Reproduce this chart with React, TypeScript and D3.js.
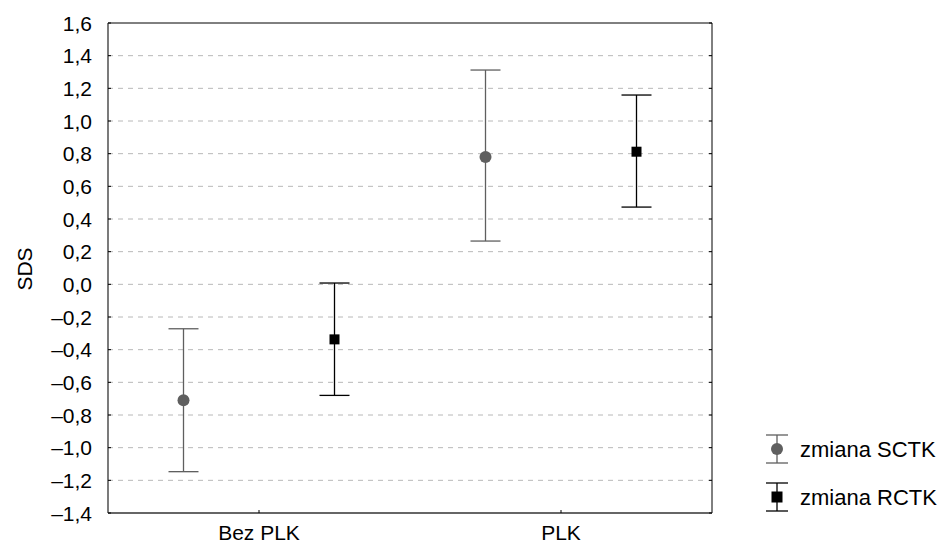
import React from "react";
import * as d3 from "d3";

const categories = ["Bez PLK", "PLK"];
const seriesNames = ["zmiana SCTK", "zmiana RCTK"];
const sctkMean = [-0.71, 0.78];
const sctkLow = [-1.147, 0.265];
const sctkHigh = [-0.272, 1.312];
const rctkMean = [-0.337, 0.812];
const rctkLow = [-0.68, 0.473];
const rctkHigh = [0.008, 1.159];
const yTicks = [-1.4, -1.2, -1.0, -0.8, -0.6, -0.4, -0.2, 0.0, 0.2, 0.4, 0.6, 0.8, 1.0, 1.2, 1.4, 1.6];

const W = 944, H = 543;
const L = 108, R = 712, T = 23, B = 513;
const FONT = "'Liberation Sans', Arial, sans-serif";

const fmt = (v: number) => {
  const s = Math.abs(v).toFixed(1).replace(".", ",");
  return (v < -1e-9 ? "\u2013" : "") + s;
};

export default function App() {
  const x = d3.scaleBand<string>().domain(categories).range([L, R]);
  const y = d3.scaleLinear().domain([-1.4, 1.6]).range([B, T]);
  const off = 75.5;
  const cap = 15;
  const series = [
    { name: seriesNames[0], mean: sctkMean, low: sctkLow, high: sctkHigh, color: "#5f5f5f", dx: -off, shape: "circle" },
    { name: seriesNames[1], mean: rctkMean, low: rctkLow, high: rctkHigh, color: "#000000", dx: off, shape: "square" },
  ];
  const cx = (c: string) => (x(c) as number) + x.bandwidth() / 2;

  return (
    <svg width={W} height={H} style={{ position: "absolute", left: 0, top: 0, background: "#fff" }} fontFamily={FONT}>
      <rect x={0} y={0} width={W} height={H} fill="#fff" />
      {yTicks.slice(1, -1).map((t) => (
        <line key={"g" + t} x1={L} x2={R} y1={y(t)} y2={y(t)} stroke="#b8b8b8" strokeWidth={1} strokeDasharray="5,5" />
      ))}
      {/* frame */}
      <line x1={L} x2={R} y1={T} y2={T} stroke="#000" strokeWidth={1} />
      <line x1={R} x2={R} y1={T} y2={B} stroke="#000" strokeWidth={1} />
      <line x1={L} x2={L} y1={T} y2={B} stroke="#333" strokeWidth={1.3} />
      <line x1={L} x2={R} y1={B} y2={B} stroke="#333" strokeWidth={1.3} />
      {yTicks.map((t) => (
        <g key={"t" + t}>
          <line x1={L} x2={L + 3} y1={y(t)} y2={y(t)} stroke="#000" />
          <line x1={R - 3} x2={R} y1={y(t)} y2={y(t)} stroke="#000" />
          <text x={92} y={y(t)} dy="0.36em" textAnchor="end" fontSize={21} fill="#000">{fmt(t)}</text>
        </g>
      ))}
      {categories.map((c) => (
        <g key={c}>
          <line x1={cx(c)} x2={cx(c)} y1={B} y2={B - 3} stroke="#000" />
          <text x={cx(c)} y={540} textAnchor="middle" fontSize={21} fill="#000">{c}</text>
        </g>
      ))}
      <text transform={`translate(32,${(T + B) / 2 + 1}) rotate(-90)`} textAnchor="middle" fontSize={21} fill="#000">SDS</text>
      {series.map((s) => (
        <g key={s.name}>
          {categories.map((c, i) => {
            const px = cx(c) + s.dx;
            return (
              <g key={c}>
                <line x1={px} x2={px} y1={y(s.low[i])} y2={y(s.high[i])} stroke={s.color} strokeWidth={1.3} />
                <line x1={px - cap} x2={px + cap} y1={y(s.low[i])} y2={y(s.low[i])} stroke={s.color} strokeWidth={1.3} />
                <line x1={px - cap} x2={px + cap} y1={y(s.high[i])} y2={y(s.high[i])} stroke={s.color} strokeWidth={1.3} />
                {s.shape === "circle" ? (
                  <circle cx={px} cy={y(s.mean[i])} r={6} fill={s.color} />
                ) : (
                  <rect x={px - 5} y={y(s.mean[i]) - 5} width={10} height={10} fill={s.color} />
                )}
              </g>
            );
          })}
        </g>
      ))}
      {/* legend */}
      {series.map((s, i) => {
        const lx = 777;
        const ly = 449 + i * 48;
        return (
          <g key={"l" + s.name}>
            <line x1={lx} x2={lx} y1={ly - 14} y2={ly + 14} stroke={s.color} strokeWidth={1.3} />
            <line x1={lx - 11} x2={lx + 11} y1={ly - 14} y2={ly - 14} stroke={s.color} strokeWidth={1.3} />
            <line x1={lx - 11} x2={lx + 11} y1={ly + 14} y2={ly + 14} stroke={s.color} strokeWidth={1.3} />
            {s.shape === "circle" ? (
              <circle cx={lx} cy={ly} r={6} fill={s.color} />
            ) : (
              <rect x={lx - 5.5} y={ly - 5.5} width={11} height={11} fill={s.color} />
            )}
            <text x={800} y={ly} dy="0.36em" fontSize={22} fill="#000">{s.name}</text>
          </g>
        );
      })}
    </svg>
  );
}
